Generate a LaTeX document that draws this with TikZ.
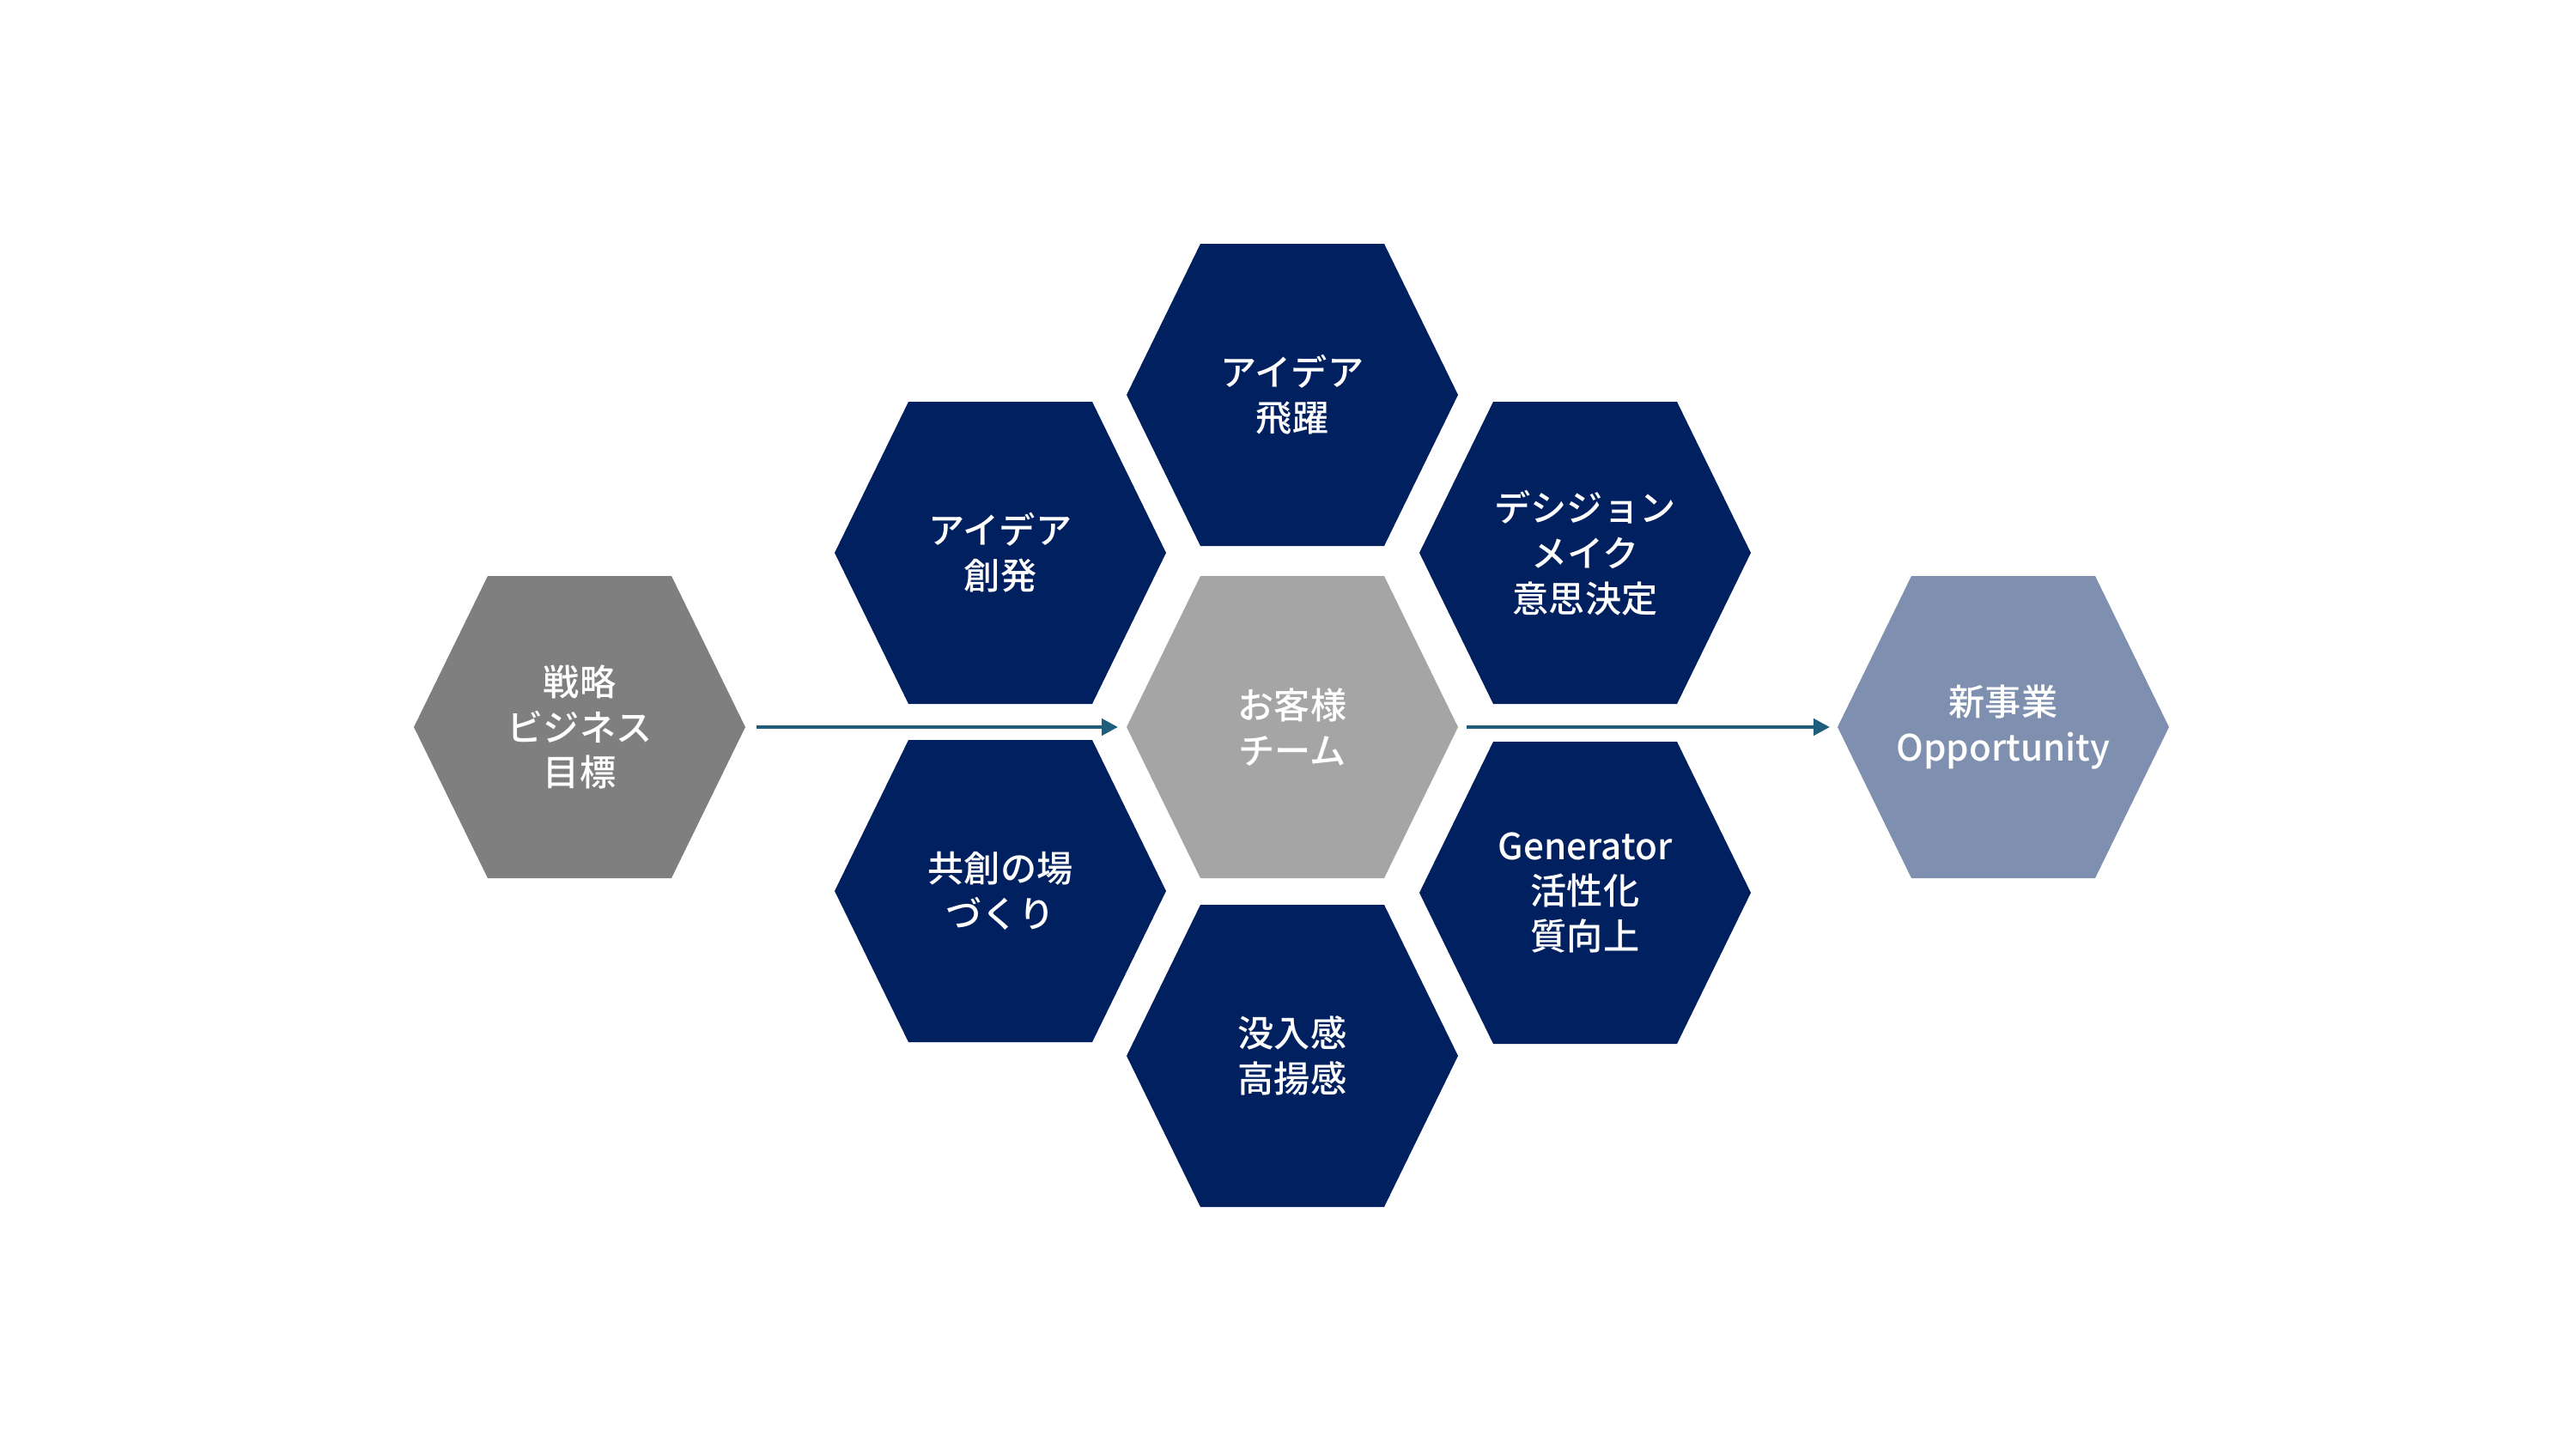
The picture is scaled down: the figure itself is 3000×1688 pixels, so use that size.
\documentclass[tikz,border=0pt]{standalone}
\usepackage{fontspec}
\newfontfamily\jpfont[UprightFont=* Medium]{Noto Sans CJK JP}
\usepackage{tikz}
\usetikzlibrary{calc, arrows.meta}
\usepackage{xcolor}
\definecolor{navy}{HTML}{002060}
\definecolor{teamgray}{HTML}{A5A5A5}
\definecolor{stratgray}{HTML}{7F7F7F}
\definecolor{bizblue}{HTML}{7F8FAF}
\definecolor{flowblue}{HTML}{1F5E7B}

\tikzset{
  celltext/.style={text=white, align=center, font=\jpfont\fontsize{12}{15}\selectfont},
  flow/.style={draw=flowblue, line width=1.3pt, -{Triangle[length=0.19cm, width=0.19cm]}}
}

% hexagon cell: name, centre, fill, text
\newcommand{\hexcell}[4]{%
  \fill[#3] (#2) ++(-193,0) -- ++(86,-176) -- ++(214,0) -- ++(86,176) -- ++(-86,176) -- ++(-214,0) -- cycle;
  \coordinate (#1-w) at ($(#2)+(-193,0)$);
  \coordinate (#1-e) at ($(#2)+(193,0)$);
  \node[celltext] (#1) at (#2) {#4};
}

\begin{document}
\begin{tikzpicture}[x=0.01cm, y=-0.01cm]
  \useasboundingbox (0,0) rectangle (3000,1688);

  \hexcell{strat}{675,847}{stratgray}{戦略\\ビジネス\\目標}
  \hexcell{team}{1505,847}{teamgray}{お客様\\チーム}
  \hexcell{newbiz}{2333,847}{bizblue}{新事業\\Opportunity}

  \hexcell{leap}{1505,460}{navy}{アイデア\\飛躍}
  \hexcell{ideagen}{1165,644}{navy}{アイデア\\創発}
  \hexcell{decide}{1846,644}{navy}{デシジョン\\メイク\\意思決定}
  \hexcell{cocreate}{1165,1038}{navy}{共創の場\\づくり}
  \hexcell{generator}{1846,1040}{navy}{Generator\\活性化\\質向上}
  \hexcell{immerse}{1505,1230}{navy}{没入感\\高揚感}

  \draw[flow, shorten <=0.13cm, shorten >=0.1cm] (strat-e) -- (team-w);
  \draw[flow, shorten <=0.1cm, shorten >=0.09cm] (team-e) -- (newbiz-w);
\end{tikzpicture}
\end{document}
